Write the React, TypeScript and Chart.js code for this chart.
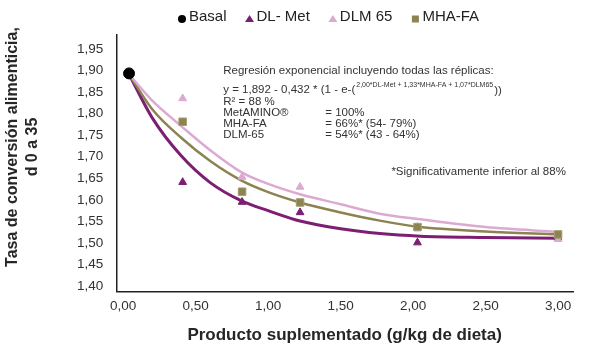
import React, { useEffect, useRef } from "react";
import { Chart, registerables } from "chart.js";

Chart.register(...registerables);

// ---------- data ----------
const doses = [0.41, 0.82, 1.22, 2.03, 3.0];
const basalX = [0.04];
const basalY = [1.893];
const dlMetY = [1.641, 1.595, 1.571, 1.501, 1.512];
const dlm65Y = [1.835, 1.653, 1.63, 1.537, 1.509];
const mhaFaY = [1.781, 1.619, 1.594, 1.537, 1.52];

const fitX = [0.04, 0.2, 0.4, 0.6, 0.82, 1.0, 1.22, 1.5, 1.77, 2.05, 2.5, 3.0];
const dlMetFit = [1.891, 1.79, 1.702, 1.64, 1.597, 1.575, 1.551, 1.533, 1.522, 1.516, 1.513, 1.511];
const mhaFaFit = [1.891, 1.81, 1.744, 1.69, 1.644, 1.618, 1.594, 1.571, 1.552, 1.537, 1.527, 1.52];
const dlm65Fit = [1.891, 1.83, 1.771, 1.715, 1.663, 1.637, 1.613, 1.59, 1.568, 1.555, 1.537, 1.526];

const xTicks = [0, 0.5, 1.0, 1.5, 2.0, 2.5, 3.0];
const yTicks = [1.4, 1.45, 1.5, 1.55, 1.6, 1.65, 1.7, 1.75, 1.8, 1.85, 1.9, 1.95];

const legendNames = ["Basal", "DL- Met", "DLM 65", "MHA-FA"];
const yTitle = ["Tasa de conversión alimenticia,", "d 0 a 35"];
const xTitle = "Producto suplementado (g/kg de dieta)";

const noteLines = [
  "Regresión exponencial incluyendo todas las réplicas:",
  "y = 1,892 - 0,432 * (1 - e-(",
  "R² = 88 %",
  "MetAMINO®",
  "MHA-FA",
  "DLM-65",
];
const noteSup = "2,00*DL-Met + 1,33*MHA-FA + 1,07*DLM65";
const noteValues = ["= 100%", "= 66%* (54- 79%)", "= 54%* (43 - 64%)"];
const footNote = "*Significativamente inferior al 88%";

// ---------- style ----------
const C_DARK = "#7c1f72";
const C_PINK = "#dcaad0";
const C_OLIVE = "#8c8352";
const FONT = "'Liberation Sans', Arial, sans-serif";

const pts = (xs: number[], ys: number[]) => xs.map((x, i) => ({ x, y: ys[i] }));
const fmt = (v: number) => v.toFixed(2).replace(".", ",");

const decorPlugin = {
  id: "decor",
  afterDraw(chart: any) {
    const ctx = chart.ctx as CanvasRenderingContext2D;
    const xs = chart.scales.x;
    const ys = chart.scales.y;
    ctx.save();
    // legend
    const styles = ["circle", "triangle", "triangle", "rect"];
    const cols = ["#000000", C_DARK, C_PINK, C_OLIVE];
    ctx.font = `15px ${FONT}`;
    ctx.textBaseline = "middle";
    ctx.textAlign = "left";
    let lx = 182;
    const ly = 17;
    legendNames.forEach((name, i) => {
      ctx.fillStyle = cols[i];
      ctx.beginPath();
      if (styles[i] === "circle") ctx.arc(lx, ly + 2, 4, 0, Math.PI * 2);
      else if (styles[i] === "triangle") {
        ctx.moveTo(lx, ly - 2);
        ctx.lineTo(lx + 4.5, ly + 5);
        ctx.lineTo(lx - 4.5, ly + 5);
        ctx.closePath();
      } else ctx.rect(lx - 3.5, ly - 1.5, 7, 7);
      ctx.fill();
      ctx.fillStyle = "#222";
      const tx = lx + 7;
      ctx.fillText(name, tx, ly);
      lx = tx + ctx.measureText(name).width + 23;
    });

    // y-axis title (drawn manually, space reserved by the scale title)
    ctx.save();
    ctx.fillStyle = "#262626";
    ctx.font = `bold 16px ${FONT}`;
    ctx.textAlign = "center";
    ctx.translate(0, 147);
    ctx.rotate(-Math.PI / 2);
    ctx.fillText(yTitle[0], 0, 13);
    ctx.fillText(yTitle[1], 0, 33);
    ctx.restore();

    // annotation
    const ax = xs.getPixelForValue(0.69);
    const y0 = ys.getPixelForValue(1.899);
    ctx.fillStyle = "#333";
    ctx.font = `11.5px ${FONT}`;
    const lineYs = [y0, y0 + 19, y0 + 31, y0 + 42, y0 + 53, y0 + 64];
    noteLines.forEach((t, i) => ctx.fillText(t, ax, lineYs[i]));
    const w2 = ctx.measureText(noteLines[1]).width;
    ctx.font = `7px ${FONT}`;
    ctx.fillText(noteSup, ax + w2 + 1, lineYs[1] - 5);
    const ws = ctx.measureText(noteSup).width;
    ctx.font = `11.5px ${FONT}`;
    ctx.fillText("))", ax + w2 + ws + 2, lineYs[1] + 1);
    noteValues.forEach((t, i) => ctx.fillText(t, ax + 102, lineYs[3 + i]));
    ctx.fillText(footNote, xs.getPixelForValue(1.85), ys.getPixelForValue(1.665));
    ctx.restore();
  },
};

export default function App() {
  const ref = useRef<HTMLCanvasElement | null>(null);
  useEffect(() => {
    if (!ref.current) return;
    const chart = new Chart(ref.current, {
      type: "scatter",
      data: {
        datasets: [
          {
            label: "Basal",
            data: pts(basalX, basalY),
            pointStyle: "circle",
            pointRadius: 5.5,
            backgroundColor: "#000",
            borderColor: "#000",
            order: 0,
          },
          {
            label: "MHA-FA",
            data: pts(doses, mhaFaY),
            pointStyle: "rect",
            pointRadius: 5.3,
            backgroundColor: C_OLIVE,
            borderColor: "#a59c6c",
            borderWidth: 1,
            order: 1,
          },
          {
            label: "DLM 65",
            data: pts(doses, dlm65Y),
            pointStyle: "triangle",
            pointRadius: 4.5,
            backgroundColor: C_PINK,
            borderColor: C_PINK,
            order: 2,
          },
          {
            label: "DL- Met",
            data: pts(doses, dlMetY),
            pointStyle: "triangle",
            pointRadius: 4.5,
            backgroundColor: C_DARK,
            borderColor: C_DARK,
            order: 3,
          },
          {
            label: "DLM 65 fit",
            data: pts(fitX, dlm65Fit),
            showLine: true,
            pointRadius: 0,
            borderColor: C_PINK,
            borderWidth: 2.5,
            cubicInterpolationMode: "monotone",
            order: 4,
          },
          {
            label: "MHA-FA fit",
            data: pts(fitX, mhaFaFit),
            showLine: true,
            pointRadius: 0,
            borderColor: C_OLIVE,
            borderWidth: 2.5,
            cubicInterpolationMode: "monotone",
            order: 5,
          },
          {
            label: "DL- Met fit",
            data: pts(fitX, dlMetFit),
            showLine: true,
            pointRadius: 0,
            borderColor: C_DARK,
            borderWidth: 3,
            cubicInterpolationMode: "monotone",
            order: 6,
          },
        ] as any,
      },
      options: {
        animation: false,
        responsive: false,
        maintainAspectRatio: false,
        layout: { padding: { top: 35, right: 27, bottom: 14, left: 3 } },
        plugins: { legend: { display: false }, tooltip: { enabled: false } },
        scales: {
          x: {
            type: "linear",
            min: -0.048,
            max: 3.103,
            afterBuildTicks: (s: any) => {
              s.ticks = xTicks.map((v) => ({ value: v }));
            },
            ticks: {
              callback: (v: any) => fmt(Number(v)),
              font: { family: FONT, size: 13.5 },
              color: "#333",
              padding: 7,
              autoSkip: false,
              maxRotation: 0,
            },
            grid: { display: false, drawTicks: false },
            border: { display: true, color: "#222", width: 1.5 },
            title: {
              display: true,
              text: xTitle,
              font: { family: FONT, size: 17, weight: "bold" },
              color: "#262626",
              padding: { top: 4, bottom: 0 },
            },
          },
          y: {
            type: "linear",
            min: 1.388,
            max: 1.982,
            afterBuildTicks: (s: any) => {
              s.ticks = yTicks.map((v) => ({ value: v }));
            },
            ticks: {
              callback: (v: any) => fmt(Number(v)),
              font: { family: FONT, size: 13.5 },
              color: "#333",
              padding: 13,
              autoSkip: false,
            },
            grid: { display: false, drawTicks: false },
            border: { display: true, color: "#222", width: 1.5 },
            title: {
              display: true,
              text: yTitle,
              font: { family: FONT, size: 16, weight: "bold", lineHeight: 1.25 },
              color: "rgba(0,0,0,0)",
              padding: { top: 0, bottom: 21 },
            },
          },
        },
      },
      plugins: [decorPlugin],
    });
    return () => chart.destroy();
  }, []);
  return (
    <div style={{ position: "fixed", left: 0, top: 0, width: 600, height: 360, background: "#fff" }}>
      <canvas ref={ref} width={600} height={360} style={{ width: 600, height: 360 }} />
    </div>
  );
}
